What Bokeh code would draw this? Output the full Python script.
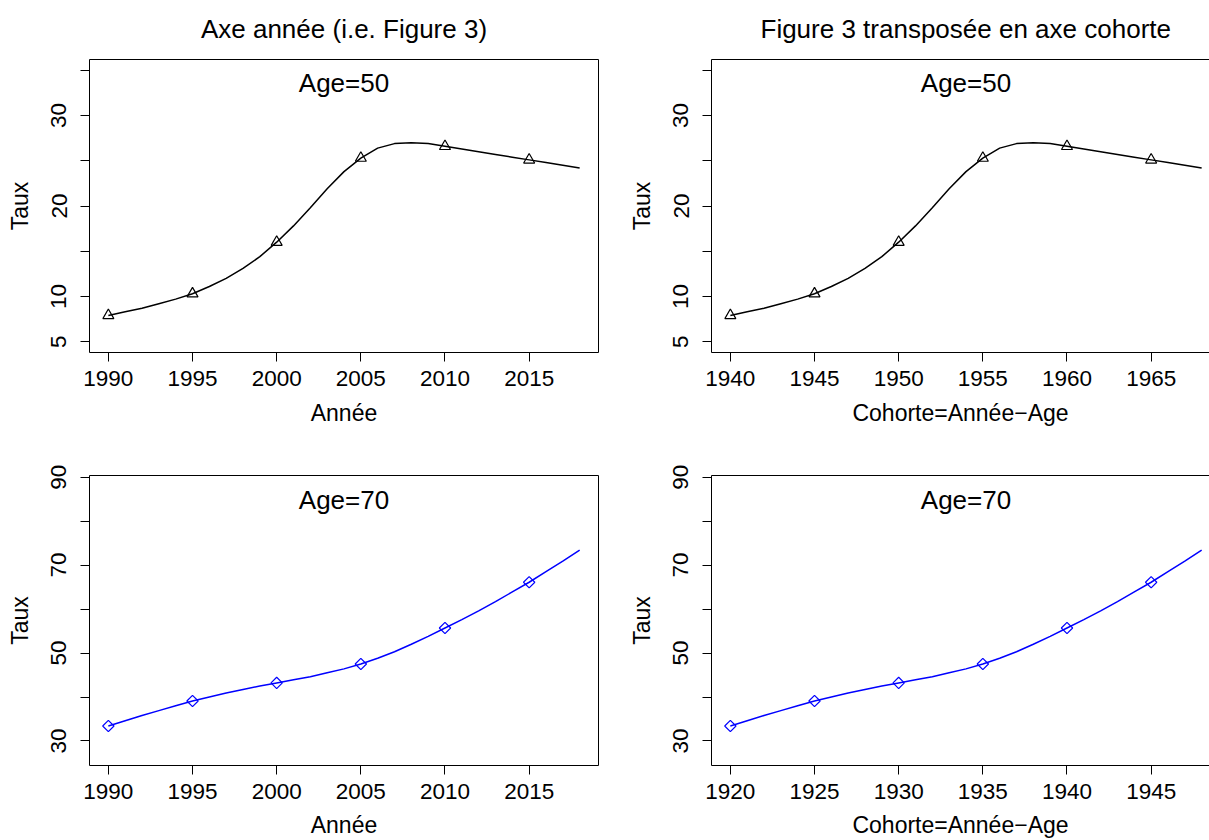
import math
from bokeh.plotting import figure
from bokeh.layouts import column, row
from bokeh.models import Range1d, FixedTicker, LinearAxis, Label
from bokeh.embed import file_html
from bokeh.resources import INLINE

# ---- data ----
years_pts = [1990, 1995, 2000, 2005, 2010, 2015]
taux50_pts = [7.9, 10.3, 16.0, 25.3, 26.6, 25.1]
taux70_pts = [33.4, 39.1, 43.2, 47.5, 55.7, 66.1]

years_curve = list(range(1990, 2019))
taux50_curve = [7.9, 8.3, 8.7, 9.2, 9.7, 10.3, 11.1, 12.0, 13.1, 14.4,
                16.0, 17.8, 19.8, 21.9, 23.8, 25.3, 26.4, 26.9, 27.0, 26.9,
                26.6, 26.3, 26.0, 25.7, 25.4, 25.1, 24.8, 24.5, 24.2]
taux70_curve = [33.4, 34.6, 35.8, 36.9, 38.0, 39.1, 40.0, 40.9, 41.7, 42.5,
                43.2, 43.9, 44.6, 45.5, 46.4, 47.5, 48.8, 50.3, 52.0, 53.8,
                55.7, 57.6, 59.6, 61.7, 63.9, 66.1, 68.5, 70.9, 73.4]

ages = [50, 70]
year_ticks = [1990, 1995, 2000, 2005, 2010, 2015]
y_ticks_50 = [5, 10, 15, 20, 25, 30, 35]
y_labels_50 = {5: "5", 10: "10", 15: "", 20: "20", 25: "", 30: "30", 35: ""}
y_ticks_70 = [30, 40, 50, 60, 70, 80, 90]
y_labels_70 = {30: "30", 40: "", 50: "50", 60: "", 70: "70", 80: "", 90: "90"}

title_left = "Axe année (i.e. Figure 3)"
title_right = "Figure 3 transposée en axe cohorte"
xlab_left = "Année"
xlab_right = "Cohorte=Année\u2212Age"
ylab = "Taux"

FONT = "Liberation Sans"


def style_axes(p, xticks, yticks, ylabels, xlabel, xlab_standoff):
    xa = p.xaxis[0]
    xa.ticker = FixedTicker(ticks=xticks)
    xa.axis_label = xlabel
    ya = p.yaxis[0]
    ya.ticker = FixedTicker(ticks=yticks)
    ya.major_label_overrides = ylabels
    ya.axis_label = ylab
    ya.major_label_orientation = "vertical"
    for ax in (xa, ya):
        ax.minor_tick_line_color = None
        ax.major_tick_in = 0
        ax.major_tick_out = 9
        ax.major_tick_line_color = "black"
        ax.axis_line_color = "black"
        ax.major_label_text_font = FONT
        ax.major_label_text_font_size = "22.5px"
        ax.major_label_text_color = "black"
        ax.axis_label_text_font = FONT
        ax.axis_label_text_font_size = "23px"
        ax.axis_label_text_font_style = "normal"
        ax.axis_label_text_color = "black"
    xa.major_label_standoff = 9
    xa.axis_label_standoff = xlab_standoff
    xa.axis_label_text_line_height = 0.8
    ya.major_label_standoff = 14
    ya.axis_label_standoff = 16


def blank_axis():
    return LinearAxis(ticker=FixedTicker(ticks=[]), major_tick_line_color=None,
                      minor_tick_line_color=None, major_label_text_font_size="0px",
                      major_tick_out=0, major_tick_in=0, major_label_standoff=0,
                      axis_line_color="black")


def make_panel(xs_curve, ys_curve, xs_pts, ys_pts, xr, yr, xticks, yticks,
               ylabels, xlabel, color, marker, age_label, label_x, label_y,
               width, height, bl, br, bt, bb, title=None,
               title_offset=None, right_border=True, xlab_standoff=11):
    p = figure(width=width, height=height, x_range=Range1d(*xr),
               y_range=Range1d(*yr), output_backend="svg",
               toolbar_location=None, min_border_left=bl,
               min_border_right=br, min_border_top=bt, min_border_bottom=bb)
    p.grid.visible = False
    p.outline_line_color = None
    p.background_fill_color = "white"
    p.border_fill_color = "white"
    style_axes(p, xticks, yticks, ylabels, xlabel, xlab_standoff)

    p.add_layout(blank_axis(), "above")
    if right_border:
        p.add_layout(blank_axis(), "right")

    if title is not None:
        p.title.text = title
        p.title.text_font = FONT
        p.title.text_font_size = "26px"
        p.title.text_font_style = "normal"
        p.title.text_color = "black"
        p.title.text_line_height = 0.9
        p.title.standoff = 27
        p.title.vertical_align = "top"
        if title_offset is None:
            p.title.align = "center"
        else:
            p.title.align = "left"
            p.title.offset = title_offset

    p.line(xs_curve, ys_curve, line_color=color, line_width=1.5)
    if marker == "triangle":
        p.scatter(xs_pts, ys_pts, marker="triangle", size=11,
                  fill_color=None, line_color=color, line_width=1.2)
    else:
        p.scatter(xs_pts, ys_pts, marker="square", angle=math.pi / 4, size=8,
                  fill_color=None, line_color=color, line_width=1.2)
    p.add_layout(Label(x=label_x, y=label_y, text=age_label,
                       text_align="center", text_baseline="middle",
                       text_font=FONT, text_font_size="26px",
                       text_color="black"))
    return p


coh50_curve = [y - ages[0] for y in years_curve]
coh50_pts = [y - ages[0] for y in years_pts]
coh70_curve = [y - ages[1] for y in years_curve]
coh70_pts = [y - ages[1] for y in years_pts]
coh50_ticks = [y - ages[0] for y in year_ticks]
coh70_ticks = [y - ages[1] for y in year_ticks]

yr50 = (3.8, 36.2)
yr70 = (24.42, 90.38)
xr_left = (1988.88, 2019.12)
span_per_px = (xr_left[1] - xr_left[0]) / 509.0
right_frame = 498
xr_r50 = (xr_left[0] - ages[0], xr_left[0] - ages[0] + right_frame * span_per_px)
xr_r70 = (xr_left[0] - ages[1], xr_left[0] - ages[1] + right_frame * span_per_px)

W1, W2 = 608, 601
H1, H2 = 438, 402

tl = make_panel(years_curve, taux50_curve, years_pts, taux50_pts, xr_left, yr50,
                year_ticks, y_ticks_50, y_labels_50, xlab_left, "black", "triangle",
                "Age=50", 2004.0, 33.55, W1, H1, 89, 10, 59, 86,
                title=title_left)
tr = make_panel(coh50_curve, taux50_curve, coh50_pts, taux50_pts, xr_r50, yr50,
                coh50_ticks, y_ticks_50, y_labels_50, xlab_right, "black", "triangle",
                "Age=50", 1954.0, 33.55, W2, H1, 103, 0, 59, 86,
                title=title_right, title_offset=49, right_border=False)
bl = make_panel(years_curve, taux70_curve, years_pts, taux70_pts, xr_left, yr70,
                year_ticks, y_ticks_70, y_labels_70, xlab_left, "blue", "diamond",
                "Age=70", 2004.0, 84.9, W1, H2, 89, 10, 37, 74, xlab_standoff=10)
br = make_panel(coh70_curve, taux70_curve, coh70_pts, taux70_pts, xr_r70, yr70,
                coh70_ticks, y_ticks_70, y_labels_70, xlab_right, "blue", "diamond",
                "Age=70", 1934.0, 84.9, W2, H2, 103, 0, 37, 74,
                right_border=False, xlab_standoff=10)

layout = column(row(tl, tr), row(bl, br))
open("out.html", "w").write(file_html(layout, INLINE))
